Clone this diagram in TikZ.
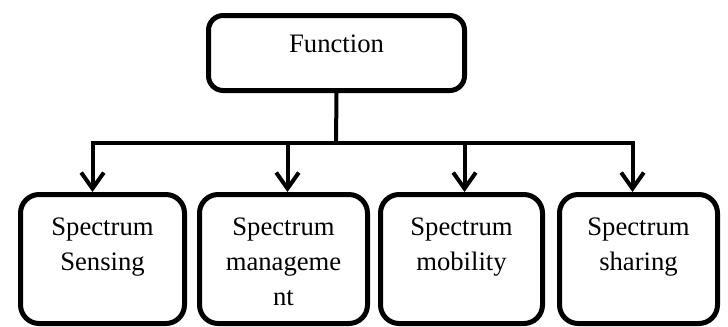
\documentclass[tikz,border=0pt]{standalone}
\usepackage{fontspec}
\setmainfont{Liberation Serif}
\usetikzlibrary{arrows.meta, positioning, calc}

\begin{document}
\begin{tikzpicture}[x=0.75pt, y=-0.75pt,
topbox/.style={draw, line width=3.75pt, rounded corners=11pt, minimum width=192pt, minimum height=56.25pt},
leafbox/.style={draw, line width=3.75pt, rounded corners=14pt, minimum height=96.75pt},
lbl/.style={inner sep=0pt, align=center, font=\fontsize{20}{26.25}\selectfont},
link/.style={line width=3pt},
arr/.style={line width=3pt, -{Straight Barb[length=12pt, width=17pt]}}]
\useasboundingbox (0,0) rectangle (728,326);

% boxes
\node[topbox] (root) at (336.5,53) {};
\node[leafbox, minimum width=123pt] (sense) at (102.5,259) {};
\node[leafbox, minimum width=126pt] (manage) at (283.5,259) {};
\node[leafbox, minimum width=121.5pt] (mobil) at (461.5,259) {};
\node[leafbox, minimum width=118.5pt] (share) at (638.5,259) {};

% texts
\node[lbl, below=16.5pt of root.north] (roottxt) {Function};
\node[lbl, below=19.5pt of sense.north] (sensetxt) {Spectrum\\Sensing};
\node[lbl, below=19.5pt of manage.north] (managetxt) {Spectrum\\manageme\\nt};
\node[lbl, below=19.5pt of mobil.north] (mobiltxt) {Spectrum\\mobility};
\node[lbl, below=19.5pt of share.north] (sharetxt) {Spectrum\\sharing};

% connectors
\coordinate (fork) at (336,143);
\draw[link] (root.south) -- (fork);
\draw[arr] (fork) -| ($(sense.north)+(-10,0)$);
\draw[arr] (fork) -| ($(share.north)+(-6,0)$);
\draw[arr] ($(fork -| manage.north)+(4,0)$) -- ($(manage.north)+(4,0)$);
\draw[arr] ($(fork -| mobil.north)+(3,0)$) -- ($(mobil.north)+(3,0)$);
\end{tikzpicture}
\end{document}
